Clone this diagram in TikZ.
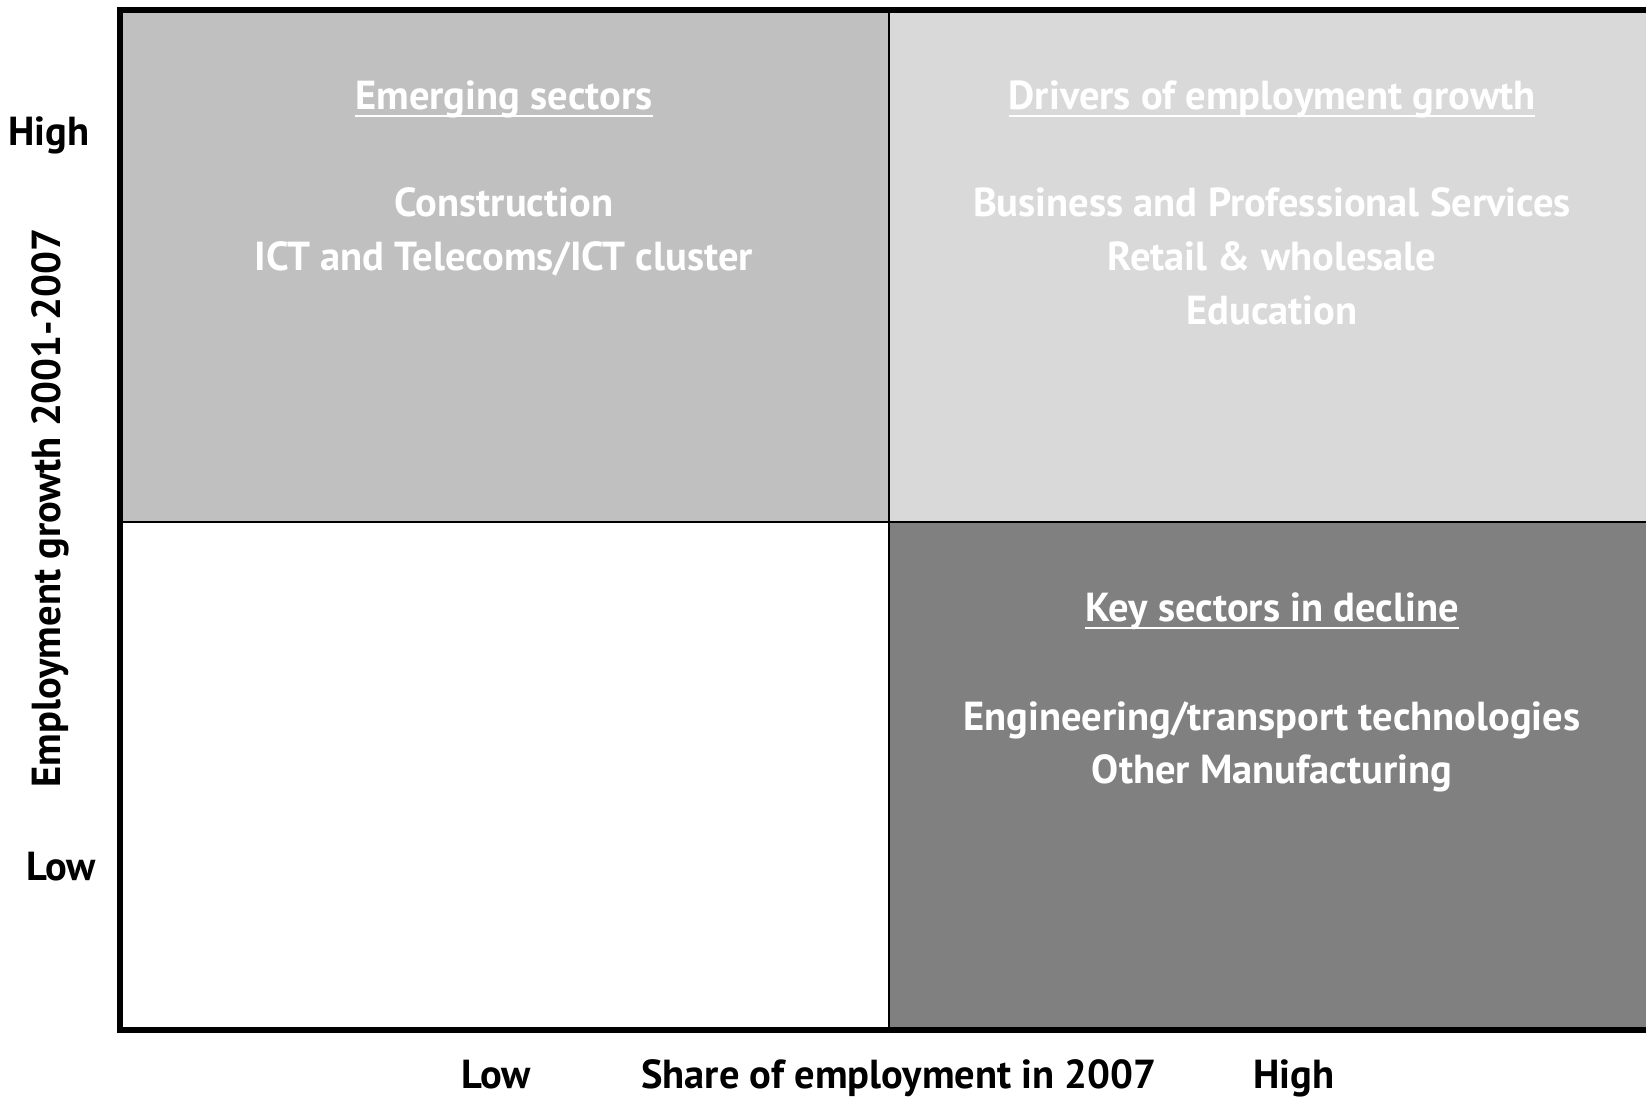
\documentclass[tikz,border=0pt]{standalone}
\usepackage{fontspec}
\setmainfont{PT Sans}
\definecolor{qone}{HTML}{C0C0C0}
\definecolor{qtwo}{HTML}{D9D9D9}
\definecolor{qfour}{HTML}{808080}
\begin{document}
\begin{tikzpicture}[x=1pt,y=-1pt,
  intext/.style={text=white,inner sep=0pt,anchor=base,font=\fontsize{40.5}{46}\selectfont\bfseries},
  axtext/.style={text=black,inner sep=0pt,anchor=base,font=\fontsize{40.5}{46}\selectfont\bfseries},
  uline/.style={white,line width=2.6pt}]
\useasboundingbox (0,0) rectangle (1646,1096);
\fill[white] (0,0) rectangle (1646,1096);
% quadrants
\fill[qone] (120,10) rectangle (889,522);
\fill[qtwo] (889,10) rectangle (1700,522);
\fill[qfour] (889,522) rectangle (1700,1030);
% dividers
\draw[line width=2.4pt] (889,10) -- (889,1030);
\draw[line width=2.4pt] (120,522) -- (1700,522);
% frame
\draw[line width=6pt] (1700,10) -- (120,10) -- (120,1030) -- (1700,1030);
% top-left
\node[intext] (t1) at (504,109) {Emerging sectors};
\draw[uline] ([yshift=-7pt]t1.base west) -- ([yshift=-7pt]t1.base east);
\node[intext] (c1) at (504,216) {Construction};
\node[intext] (c2) at (504,270) {ICT and Telecoms/ICT cluster};
% top-right
\node[intext] (t2) at (1272,109) {Drivers of employment growth};
\draw[uline] ([yshift=-7pt]t2.base west) -- ([yshift=-7pt]t2.base east);
\node[intext] (d1) at (1272,216) {Business and Professional Services};
\node[intext] (d2) at (1272,270) {Retail \& wholesale};
\node[intext] (d3) at (1272,324) {Education};
% bottom-right
\node[intext] (t3) at (1272,621) {Key sectors in decline};
\draw[uline] ([yshift=-7pt]t3.base west) -- ([yshift=-7pt]t3.base east);
\node[intext] (k1) at (1272,730) {Engineering/transport technologies};
\node[intext] (k2) at (1272,783) {Other Manufacturing};
% axes labels
\node[axtext] (yh) at (49,145) {High};
\node[axtext] (yl) at (61,880) {Low};
\node[axtext,rotate=90,anchor=center] (yt) at (50,508) {Employment growth 2001-2007};
\node[axtext] (xl) at (496,1088) {Low};
\node[axtext] (xt) at (899,1088) {Share of employment in 2007};
\node[axtext] (xh) at (1294,1088) {High};
\end{tikzpicture}
\end{document}
